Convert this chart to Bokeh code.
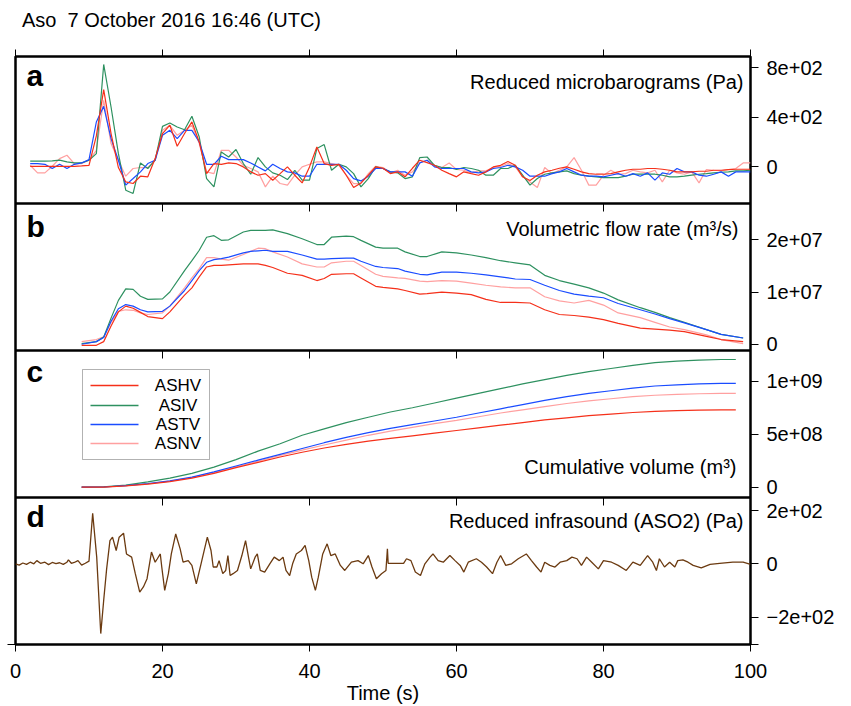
from bokeh.plotting import figure
from bokeh.models import LinearAxis, FixedTicker, Range1d, Label, BoxAnnotation, Span, Div
from bokeh.layouts import column
from bokeh.embed import file_html
from bokeh.resources import INLINE

FONT = "Liberation Sans"
RED, GREEN, BLUE, PINK, BROWN = "#f5301a", "#2e9160", "#1a4cff", "#ffa0a0", "#6b3a10"

TITLE = "Aso  7 October 2016 16:46 (UTC)"
X_TICKS = [0, 20, 40, 60, 80, 100]
STATIONS = ["ASHV", "ASIV", "ASTV", "ASNV"]
COLORS = {"ASHV": RED, "ASIV": GREEN, "ASTV": BLUE, "ASNV": PINK}

# ---------------- panel a: reduced microbarograms (Pa), 1 s samples ----------------
t_a = list(range(2, 101))
mb_ashv = [5, 5, 5, 5, 5, 5, 5, 8, 13, 250,
           623, 269, -5, -121, -134, -75, -80, 67, 269, 336,
           167, 269, 363, 201, -54, 27, 21, 32, 27, 0,
           -40, -67, -54, -107, -54, 0, -67, -129, 0, 161,
           27, 13, 21, -67, -166, -129, -67, 0, -11, -54,
           -40, -80, -11, 54, 35, 13, -27, -54, -80, -40,
           -54, -67, -40, 0, 13, 43, 13, -80, -110, -67,
           -40, -27, -11, 0, -19, -40, -54, -59, -59, -54,
           -40, -27, -19, -19, -13, -13, -19, -27, -40, -40,
           -40, -35, -35, -27, -27, -22, -19, -19, -19]
mb_asiv = [46, 46, 46, 48, 54, 40, 32, 32, 54, 107,
           826, 483, 107, -188, -214, 32, -13, 54, 327, 354,
           322, 300, 408, 241, -94, -161, 121, 80, 140, 27,
           -59, 75, 0, -48, -67, -102, -27, -107, -107, 148,
           180, -27, 21, 0, -54, -161, -94, 0, -13, -40,
           -48, -94, -80, 75, 80, 13, -5, -5, -21, -5,
           -13, -27, -67, -67, -13, -13, 13, -67, -147, -94,
           -59, -48, -40, -32, -54, -67, -75, -80, -86, -86,
           -86, -75, -59, -59, -59, -59, -67, -80, -80, -75,
           -67, -59, -54, -48, -43, -40, -32, -32, -27]
mb_astv = [27, 27, 21, -13, 21, -13, 21, 32, 59, 362,
           488, 228, 54, -147, -94, -40, 27, 54, 255, 295,
           228, 295, 295, 201, 21, 21, 86, 59, 59, 59,
           32, 0, -32, 21, -13, -40, -48, -75, -75, 21,
           21, 21, 21, -27, -94, -113, -75, -13, -13, -40,
           -40, -40, -75, 32, 54, 0, -13, -13, -13, -13,
           -40, -48, -40, -13, -5, 13, 0, -27, -75, -75,
           -75, -54, -40, -13, -40, -67, -75, -75, -80, -67,
           -54, -75, -54, -75, -48, -107, -48, -59, -13, -40,
           -40, -67, -75, -59, -40, -75, -40, -40, -40]
mb_asnv = [13, -48, -48, 5, 67, 94, 27, 27, 54, 134,
           536, 188, 54, -75, -13, -5, -5, 54, 295, 335,
           255, 295, 335, 188, -40, -54, 134, 134, 80, 13,
           -13, -40, -161, -75, -134, -147, -67, 0, 21, 40,
           40, 27, 13, -67, -134, -134, -54, 5, -5, -48,
           -27, -67, -40, 32, 54, 13, -5, 32, -21, -27,
           -48, -32, -32, -5, 5, 27, 0, -80, -121, -166,
           -5, -54, -27, 0, 75, -27, -147, -147, -67, -27,
           -59, -54, -27, -40, -48, -27, -121, -27, -48, -59,
           -40, -129, -21, -27, -32, -21, -13, 32, 32]

# ---------------- panel b: volumetric flow rate (units of 1e7 m3/s) ----------------
t_b = [9, 11, 12, 13, 14, 15, 16, 17, 18, 20,
       21, 23, 24, 25, 26, 27, 28, 29, 31, 32,
       33, 34, 35, 37, 39, 41, 42, 43, 45, 46,
       47, 49, 50, 52, 53, 55, 56, 58, 60, 62,
       64, 66, 68, 70, 72, 74, 76, 78, 80, 82,
       85, 87, 89, 91, 94, 96, 99]
q_asiv = [0.01, 0.05, 0.14, 0.50, 0.84, 1.06, 1.05, 0.92, 0.86, 0.87,
          1.00, 1.41, 1.60, 1.80, 2.05, 2.08, 1.99, 2.00, 2.15, 2.18,
          2.18, 2.18, 2.19, 2.12, 2.02, 1.91, 1.91, 2.05, 2.07, 2.06,
          1.99, 1.86, 1.84, 1.84, 1.77, 1.68, 1.68, 1.77, 1.75, 1.71,
          1.66, 1.60, 1.56, 1.52, 1.32, 1.22, 1.15, 1.08, 0.98, 0.85,
          0.70, 0.61, 0.51, 0.42, 0.28, 0.19, 0.12]
q_astv = [0.00, 0.05, 0.13, 0.44, 0.68, 0.76, 0.73, 0.66, 0.62, 0.63,
          0.73, 1.03, 1.22, 1.41, 1.57, 1.62, 1.64, 1.67, 1.75, 1.78,
          1.79, 1.80, 1.78, 1.78, 1.71, 1.63, 1.63, 1.64, 1.65, 1.65,
          1.59, 1.49, 1.47, 1.45, 1.40, 1.34, 1.33, 1.38, 1.38, 1.36,
          1.33, 1.29, 1.25, 1.24, 1.13, 1.03, 0.96, 0.92, 0.89, 0.78,
          0.66, 0.58, 0.49, 0.41, 0.28, 0.19, 0.12]
q_asnv = [0.05, 0.09, 0.14, 0.42, 0.63, 0.66, 0.65, 0.60, 0.57, 0.60,
          0.73, 1.08, 1.27, 1.45, 1.66, 1.66, 1.63, 1.61, 1.72, 1.78,
          1.84, 1.83, 1.77, 1.67, 1.54, 1.48, 1.48, 1.56, 1.59, 1.59,
          1.51, 1.34, 1.30, 1.27, 1.26, 1.21, 1.20, 1.22, 1.21, 1.17,
          1.13, 1.10, 1.08, 1.08, 0.91, 0.83, 0.79, 0.84, 0.75, 0.60,
          0.51, 0.42, 0.33, 0.28, 0.18, 0.09, 0.01]
q_ashv = [-0.02, -0.02, 0.05, 0.35, 0.62, 0.73, 0.69, 0.61, 0.53, 0.49,
          0.62, 0.94, 1.08, 1.29, 1.48, 1.51, 1.51, 1.52, 1.54, 1.54,
          1.54, 1.51, 1.47, 1.36, 1.32, 1.22, 1.26, 1.34, 1.35, 1.35,
          1.27, 1.11, 1.09, 1.06, 1.03, 0.96, 0.97, 1.00, 0.98, 0.95,
          0.86, 0.80, 0.80, 0.79, 0.66, 0.57, 0.55, 0.52, 0.47, 0.40,
          0.31, 0.29, 0.27, 0.24, 0.15, 0.09, 0.05]

# ---------------- panel c: cumulative volume (units of 1e8 m3) ----------------
t_c = [9, 12, 15, 18, 21, 24, 27, 30, 33, 36, 39, 42, 45, 48, 51, 54,
       57, 60, 63, 66, 69, 72, 75, 78, 81, 84, 87, 90, 93, 96, 98]
v_asiv = [0, 0.03, 0.2, 0.5, 0.85, 1.3, 1.9, 2.6, 3.4, 4.1, 4.9, 5.5, 6.1, 6.6, 7.1, 7.5,
          7.95, 8.4, 8.85, 9.3, 9.75, 10.15, 10.55, 10.9, 11.2, 11.5, 11.75, 11.9, 12.0, 12.05, 12.05]
v_astv = [0, 0.02, 0.15, 0.35, 0.6, 0.95, 1.45, 2.0, 2.55, 3.1, 3.65, 4.2, 4.7, 5.15, 5.55, 5.9,
          6.25, 6.6, 7.0, 7.4, 7.8, 8.2, 8.55, 8.85, 9.1, 9.35, 9.55, 9.65, 9.75, 9.8, 9.8]
v_asnv = [0, 0.02, 0.14, 0.32, 0.58, 0.92, 1.4, 1.92, 2.45, 3.0, 3.5, 3.98, 4.45, 4.9, 5.3, 5.65,
          6.0, 6.3, 6.65, 7.0, 7.3, 7.6, 7.9, 8.15, 8.35, 8.55, 8.68, 8.76, 8.82, 8.85, 8.85]
v_ashv = [0, 0.01, 0.12, 0.3, 0.52, 0.85, 1.3, 1.85, 2.35, 2.85, 3.3, 3.7, 4.05, 4.35, 4.6, 4.85,
          5.1, 5.35, 5.6, 5.85, 6.1, 6.35, 6.55, 6.75, 6.9, 7.05, 7.15, 7.22, 7.27, 7.3, 7.3]

# ---------------- panel d: reduced infrasound ASO2 (Pa) ----------------
t_d = [0, 0.5, 1, 1.5, 2, 2.5, 2.9, 3.4, 4, 4.5, 5, 5.5, 6, 6.5, 7, 7.2, 7.6, 8, 8.5, 9,
       9.5, 10.0, 10.5, 11.05, 11.6, 12.0, 12.4, 12.85, 13.2, 13.7, 14.1, 14.7, 15.1, 15.8,
       16.3, 16.9, 17.4, 17.9, 18.5, 19.0, 19.3, 19.7, 19.9, 20.3, 20.8, 21.2, 21.8, 22.4,
       22.8, 23.5, 24.0, 24.6, 25.3, 26.1, 26.6, 26.9, 27.4, 27.7, 28.2, 28.6, 28.9, 29.2,
       29.6, 30.2, 30.8, 31.3, 31.7, 32.0, 32.6, 32.9, 33.3, 33.9, 34.6, 35.2, 35.9, 36.4,
       36.8, 37.3, 37.7, 38.2, 38.9, 39.4, 39.9, 40.3, 40.8, 41.2, 41.8, 42.4, 42.9, 43.5,
       44.2, 44.8, 45.7, 46.6, 47.3, 48.0, 48.5, 49.1, 49.8, 50.4, 50.6, 50.7, 52.8, 53.2,
       53.8, 54.4, 55.1, 55.7, 56.4, 56.8, 57.5, 58.2, 59.1, 59.8, 60.5, 61.0, 61.6, 62.7,
       63.4, 64.1, 64.9, 65.5, 66.0, 66.7, 67.5, 68.4, 69.5, 70.2, 70.9, 71.5, 72.0, 72.7,
       73.4, 74.1, 75.0, 75.7, 76.4, 77.0, 77.7, 78.4, 79.3, 80.0, 81.1, 82.0, 83.1, 84.0,
       85.0, 86.0, 86.7, 87.2, 87.6, 88.3, 89.0, 89.7, 90.1, 90.8, 91.5, 92.2, 93.3, 94.5,
       95.8, 97.6, 99.0, 100]
p_aso2 = [0, -5, 3, -2, 6, 0, 12, 2, 6, -3, 5, 1, 4, -2, 6, 15, 2, 5, 12, -5,
          2, 10, 190, 25, -262, -137, -19, 87, 100, 50, 100, 115, 37, 25,
          -37, -106, -87, -56, 44, 6, 19, 37, -12, -100, -37, 37, 112, 56,
          6, 12, -6, -75, 6, 100, 50, -12, -12, 12, -37, -25, 31, -44,
          -37, -25, 31, 87, 25, -19, 25, 37, -25, -31, 0, 25, 12, 25,
          -25, -44, 0, 37, 50, 69, 12, -50, -100, -50, 37, 75, 31, 37,
          -6, -25, 6, 12, 0, 31, -12, -56, -37, -25, 56, 2, 2, 19,
          12, -31, -44, 0, 25, 37, 12, 6, 31, 12, -6, -31, 6, 19,
          6, -12, -37, 6, 31, -6, 0, 19, 37, 12, -12, -31, 6, -6,
          -12, 6, 12, 25, 19, -6, 25, 6, -19, 12, 6, -6, -25, 6,
          -6, 31, 6, -25, 19, -12, 6, -12, 12, 15, 6, -6, -15, -2,
          2, 6, 6, -2]

# panel name -> (y min, y max, slot counted from the bottom)
PANELS = {"a": (-295, 890, 3), "b": (-0.12e7, 2.696e7, 2),
          "c": (-0.97e8, 1.29e9, 1), "d": (-303, 249, 0)}
# right-hand tick values and labels of each panel
Y_AXES = {
    "a": ([0, 400, 800], ["0", "4e+02", "8e+02"]),
    "b": ([0, 10000000, 20000000], ["0", "1e+07", "2e+07"]),
    "c": ([0, 500000000, 1000000000], ["0", "5e+08", "1e+09"]),
    "d": ([-303, -200, 0, 200], ["", "\u22122e+02", "0", "2e+02"]),
}
N = 4
FW, PH = 735, 147
TICK_IN = 8   # px, inward x ticks under each panel separator
TITLE_H = 34  # px, height of the title strip above the plot

# every panel gets its own range, stretched so that it fills its own slot of the frame
extra = {}
for name, (lo, hi, k) in PANELS.items():
    span = hi - lo
    extra[name] = Range1d(lo - k * span, hi + (N - 1 - k) * span)

p = figure(frame_width=FW, frame_height=PH * N, min_border_left=15, min_border_right=101,
           min_border_top=56 - TITLE_H, min_border_bottom=62,
           x_range=Range1d(0, 100), y_range=Range1d(0, N),
           x_axis_location=None, y_axis_location=None,
           toolbar_location=None, output_backend="svg",
           background_fill_color="white", border_fill_color="white",
           outline_line_color="black", outline_line_width=2.5)
p.grid.visible = False
p.title.visible = False
p.extra_y_ranges = extra

# data
for yy, c in ((mb_asnv, PINK), (mb_asiv, GREEN), (mb_astv, BLUE), (mb_ashv, RED)):
    p.line(t_a, yy, line_color=c, line_width=1.2, y_range_name="a")
for yy, c in ((q_asnv, PINK), (q_asiv, GREEN), (q_astv, BLUE), (q_ashv, RED)):
    p.line(t_b, [v * 1e7 for v in yy], line_color=c, line_width=1.2, y_range_name="b")
for yy, c in ((v_asnv, PINK), (v_asiv, GREEN), (v_astv, BLUE), (v_ashv, RED)):
    p.line(t_c, [v * 1e8 for v in yy], line_color=c, line_width=1.2, y_range_name="c")
p.line(t_d, p_aso2, line_color=BROWN, line_width=1.3, y_range_name="d")

# panel separators and the short inward x ticks below each of them
for k in range(1, N):
    p.add_layout(Span(location=k, dimension="width", line_color="black", line_width=2.5))
sx0, sy0, sy1 = [], [], []
for k in range(1, N):
    for t in X_TICKS:
        sx0.append(t)
        sy0.append(k)
        sy1.append(k - TICK_IN / PH)
p.segment(x0=sx0, y0=sy0, x1=sx0, y1=sy1, line_color="black", line_width=1)

# x axes: outward ticks above panel a, outward ticks and labels below panel d
top_ax = LinearAxis(ticker=FixedTicker(ticks=X_TICKS), axis_line_color=None,
                    major_tick_line_color="black", major_tick_line_width=1,
                    minor_tick_line_color=None, major_tick_out=7, major_tick_in=0,
                    major_label_text_font_size="0px", major_label_standoff=0,
                    major_label_overrides={t: "" for t in X_TICKS})
p.add_layout(top_ax, "above")
bot_ax = LinearAxis(ticker=FixedTicker(ticks=X_TICKS), axis_line_color=None,
                    major_tick_line_color="black", major_tick_line_width=1,
                    minor_tick_line_color=None, major_tick_out=7, major_tick_in=0,
                    major_label_text_font=FONT, major_label_text_font_size="20px",
                    major_label_text_color="black", major_label_standoff=12,
                    axis_label="Time (s)", axis_label_text_font=FONT,
                    axis_label_text_font_size="20px", axis_label_text_font_style="normal",
                    axis_label_text_color="black", axis_label_standoff=1)
p.add_layout(bot_ax, "below")

# one right-hand axis; each panel's values are placed through that panel's own limits
r_ticks, r_labels = [], {}
for name, (vals, labs) in Y_AXES.items():
    lo, hi, k = PANELS[name]
    for v, lab in zip(vals, labs):
        pos = round(k + (v - lo) / (hi - lo), 9)
        r_ticks.append(pos)
        r_labels[pos] = lab
right_ax = LinearAxis(ticker=FixedTicker(ticks=r_ticks), axis_line_color=None,
                      major_tick_line_color="black", major_tick_line_width=1,
                      minor_tick_line_color=None, major_tick_out=8, major_tick_in=0,
                      major_label_standoff=8, major_label_text_font=FONT,
                      major_label_text_color="black", major_label_text_font_size="20px",
                      major_label_overrides=r_labels)
p.add_layout(right_ax, "right")

# small tick at the lower left corner
left_ax = LinearAxis(ticker=FixedTicker(ticks=[0]), axis_line_color=None,
                     major_tick_line_color="black", major_tick_out=8, major_tick_in=0,
                     minor_tick_line_color=None, major_label_text_font_size="0px",
                     major_label_overrides={0: ""}, major_label_standoff=0)
p.add_layout(left_ax, "left")


def add_text(slot, x, y, text, size="20px", style="normal", align="left"):
    # x, y: pixels from the lower-left corner of the panel; y is the text's vertical centre
    p.add_layout(Label(x=x, y=y + slot * PH, x_units="screen", y_units="screen", text=text,
                       text_font=FONT, text_font_size=size, text_font_style=style,
                       text_align=align, text_baseline="middle", text_color="black"))


add_text(3, 11, 128.5, "a", size="30px", style="bold")
add_text(3, 728, 121.3, "Reduced microbarograms (Pa)", align="right")
add_text(2, 11, 124.4, "b", size="30px", style="bold")
add_text(2, 723, 121.2, "Volumetric flow rate (m³/s)", align="right")
add_text(1, 11, 126.4, "c", size="30px", style="bold")
add_text(1, 721, 30.7, "Cumulative volume (m³)", align="right")
add_text(0, 11, 127.7, "d", size="30px", style="bold")
add_text(0, 728, 123.2, "Reduced infrasound (ASO2) (Pa)", align="right")

# legend of panel c (box, sample lines, centred names)
C0 = 1 * PH
p.add_layout(BoxAnnotation(left=67, right=194, bottom=C0 + 38, top=C0 + 128,
                           left_units="screen", right_units="screen",
                           bottom_units="screen", top_units="screen",
                           fill_color="white", fill_alpha=1.0,
                           line_color="black", line_width=1))
for row_y, name in zip([112, 92, 73, 54], STATIONS):
    p.add_layout(BoxAnnotation(left=75, right=123, bottom=C0 + row_y - 0.8, top=C0 + row_y + 0.8,
                               left_units="screen", right_units="screen",
                               bottom_units="screen", top_units="screen",
                               fill_color=COLORS[name], fill_alpha=1.0, line_color=None))
    p.add_layout(Label(x=162.5, y=C0 + row_y, x_units="screen", y_units="screen", text=name,
                       text_font=FONT, text_font_size="17px", text_align="center",
                       text_baseline="middle", text_color="black"))

title_div = Div(
    text=(f'<div style="margin:0; padding:9px 0 0 22px; font-family:\'{FONT}\'; '
          f'font-size:20px; line-height:23px; color:black; white-space:pre;">{TITLE}</div>'),
    width=851, height=TITLE_H, margin=0)

layout = column(title_div, p, spacing=0, margin=0)
open("out.html", "w").write(file_html(layout, INLINE))
